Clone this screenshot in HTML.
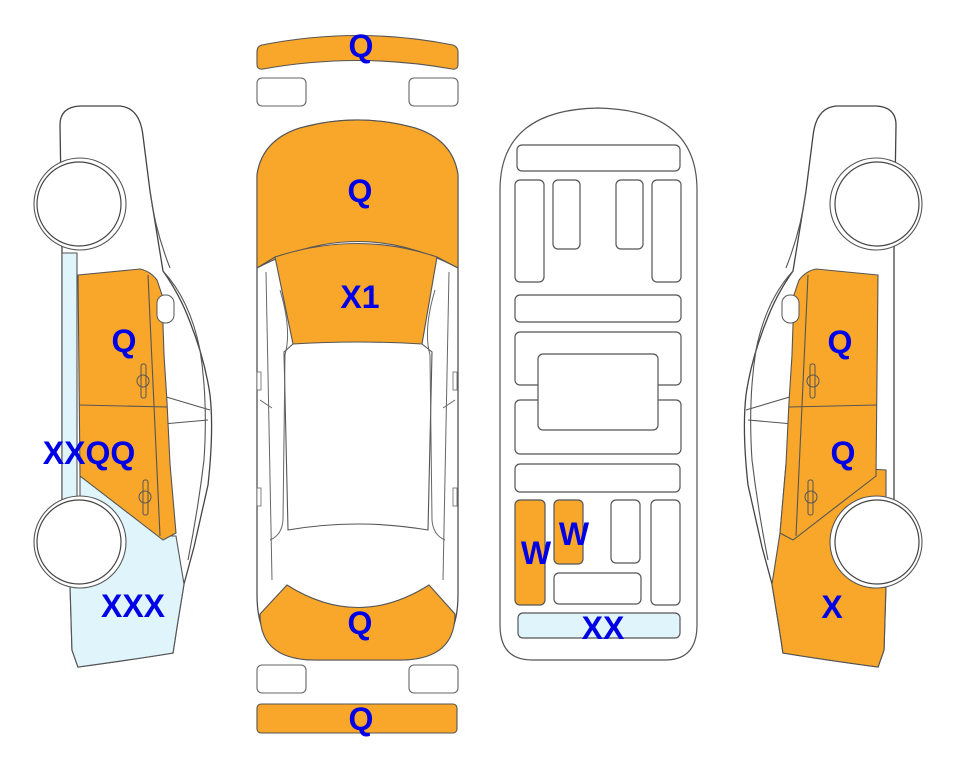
<!DOCTYPE html>
<html><head><meta charset="utf-8"><style>
html,body{margin:0;padding:0;background:#fff;}
svg{display:block}
text{font-family:"Liberation Sans",Arial,sans-serif;font-weight:bold;font-size:32px;fill:#0000e6;text-anchor:middle;}
</style></head><body>
<svg width="963" height="768" viewBox="0 0 963 768" xmlns="http://www.w3.org/2000/svg">
<defs>
<g id="side">
  <path d="M62,250 L60,125 Q60,107 80,106 L120,106 Q140,108 143,136 L150,191 L163,271 Q180,295 190,322 Q205,360 210,395 Q214,430 208,485 L194,547 L184,584 L177,627 L173,653 Q130,660 78,667 L72,650 L70,584 L62,500 Z" fill="#fff" stroke="#444" stroke-width="1.3"/>
  <path d="M150,191 Q155,230 170,268 M163,271 Q190,300 200,350 Q208,400 204,460 Q198,510 188,560" fill="none" stroke="#555" stroke-width="1.1"/>
  <path d="M163,396 L210,410 M163,424 L208,420" fill="none" stroke="#555" stroke-width="1.1"/>
</g>
</defs>

<use href="#side"/>
<path d="M62,253 L77,253 L77,500 L80,500 L80,476 L163,536 L176,536 L184,584 L177,627 L173,653 Q130,660 78,667 L72,650 L70,584 L62,500 Z" fill="#dff5fb" stroke="#555" stroke-width="1.1"/>
<path d="M78,275 L140,269 Q150,271 157,280 L162,295 L164,355 L167,402 L170,464 L176,533 L163,540 L80,476 Z" fill="#f9a72b" stroke="#555" stroke-width="1.1"/>
<path d="M79,405 L167,407 M148,275 L160,536" stroke="#555" stroke-width="1.1" fill="none"/>
<rect x="157" y="295" width="17" height="28" rx="8" fill="#fff" stroke="#555"/>
<rect x="141" y="364" width="5" height="34" rx="2" fill="none" stroke="#555"/>
<path d="M137,381 a6,6 0 0 1 12,0 a6,6 0 0 1 -12,0" fill="none" stroke="#555"/>
<rect x="143" y="480" width="5" height="35" rx="2" fill="none" stroke="#555"/>
<path d="M139,497 a6,6 0 0 1 12,0 a6,6 0 0 1 -12,0" fill="none" stroke="#555"/>
<circle cx="80" cy="204" r="46" fill="#fff" stroke="#555" stroke-width="1.1"/>
<circle cx="79" cy="204" r="42" fill="#fff" stroke="#444" stroke-width="1.2"/>
<circle cx="80" cy="542" r="46" fill="#fff" stroke="#555" stroke-width="1.1"/>
<circle cx="79" cy="542" r="42" fill="#fff" stroke="#444" stroke-width="1.2"/>

<g transform="translate(956,0) scale(-1,1)">
<use href="#side"/>
<path d="M70,470 L170,464 L176,533 L184,584 L177,627 L173,653 Q130,660 78,667 L72,650 L70,584 Z" fill="#f9a72b" stroke="#555" stroke-width="1.1"/>
<path d="M78,275 L140,269 Q150,271 157,280 L162,295 L164,355 L167,402 L170,464 L176,533 L163,540 L80,476 Z" fill="#f9a72b" stroke="#555" stroke-width="1.1"/>
<path d="M79,405 L167,407 M148,275 L160,536" stroke="#555" stroke-width="1.1" fill="none"/>
<rect x="157" y="295" width="17" height="28" rx="8" fill="#fff" stroke="#555"/>
<rect x="141" y="364" width="5" height="34" rx="2" fill="none" stroke="#555"/>
<path d="M137,381 a6,6 0 0 1 12,0 a6,6 0 0 1 -12,0" fill="none" stroke="#555"/>
<rect x="143" y="480" width="5" height="35" rx="2" fill="none" stroke="#555"/>
<path d="M139,497 a6,6 0 0 1 12,0 a6,6 0 0 1 -12,0" fill="none" stroke="#555"/>
<circle cx="80" cy="204" r="46" fill="#fff" stroke="#555" stroke-width="1.1"/>
<circle cx="79" cy="204" r="42" fill="#fff" stroke="#444" stroke-width="1.2"/>
<circle cx="80" cy="542" r="46" fill="#fff" stroke="#555" stroke-width="1.1"/>
<circle cx="79" cy="542" r="42" fill="#fff" stroke="#444" stroke-width="1.2"/>
</g>

<path d="M262,45 Q358,26 453,45 Q458,47 458,52 L458,64 Q458,70 452,69 Q358,52 263,69 Q257,70 257,64 L257,52 Q257,46 262,45 Z" fill="#f9a72b" stroke="#555" stroke-width="1.1"/>
<rect x="257" y="78" width="49" height="28" rx="5" fill="#fff" stroke="#666" stroke-width="1.1"/>
<rect x="409" y="78" width="49" height="28" rx="5" fill="#fff" stroke="#666" stroke-width="1.1"/>
<path d="M257,270 L257,175 Q262,140 300,128 Q358,112 415,128 Q453,140 458,175 L458,595 Q458,660 400,660 L315,660 Q257,660 257,595 Z" fill="#fff" stroke="#444" stroke-width="1.2"/>
<path d="M257,268 L257,175 Q262,140 300,128 Q358,112 415,128 Q453,140 458,175 L458,268 Q358,215 257,268 Z" fill="#f9a72b" stroke="#555" stroke-width="1.1"/>
<path d="M275,257 Q358,230 437,257 L422,344 Q358,340 293,344 Z" fill="#f9a72b" stroke="#555" stroke-width="1.1"/>
<path d="M257,268 L275,257 M458,268 L437,257 M293,344 L284,352 L288,530 Q358,518 428,530 L432,352 L422,344" fill="none" stroke="#555" stroke-width="1.1"/>
<path d="M266,272 L272,580 M449,272 L443,580 M280,290 Q292,330 285,355 L283,520 Q282,535 270,540 M435,290 Q423,330 430,355 L432,520 Q433,535 445,540 M260,400 L272,408 M455,400 L443,408" fill="none" stroke="#666" stroke-width="1"/>
<rect x="257" y="372" width="4" height="18" fill="#fff" stroke="#666" stroke-width="0.8"/>
<rect x="453" y="372" width="4" height="18" fill="#fff" stroke="#666" stroke-width="0.8"/>
<rect x="257" y="488" width="4" height="18" fill="#fff" stroke="#666" stroke-width="0.8"/>
<rect x="453" y="488" width="4" height="18" fill="#fff" stroke="#666" stroke-width="0.8"/>
<path d="M260,614 L287,585 Q358,630 429,585 L455,614 Q455,660 400,660 L315,660 Q260,660 260,614 Z" fill="#f9a72b" stroke="#555" stroke-width="1.1"/>
<rect x="257" y="665" width="49" height="28" rx="5" fill="#fff" stroke="#666" stroke-width="1.1"/>
<rect x="409" y="665" width="49" height="28" rx="5" fill="#fff" stroke="#666" stroke-width="1.1"/>
<rect x="257" y="704" width="200" height="29" rx="4" fill="#f9a72b" stroke="#555" stroke-width="1.1"/>

<g fill="#fff" stroke="#555" stroke-width="1.2">
<path d="M500,190 Q500,110 598,108 Q697,110 697,190 L697,625 Q697,660 665,660 L532,660 Q500,660 500,625 Z"/>
<rect x="517" y="145" width="163" height="26" rx="5"/>
<rect x="515" y="180" width="29" height="102" rx="5"/>
<rect x="553" y="180" width="27" height="69" rx="5"/>
<rect x="616" y="180" width="27" height="69" rx="5"/>
<rect x="652" y="180" width="29" height="102" rx="5"/>
<rect x="515" y="295" width="166" height="27" rx="5"/>
<rect x="515" y="332" width="166" height="53" rx="5"/>
<rect x="515" y="400" width="166" height="54" rx="5"/>
<rect x="538" y="354" width="120" height="76" rx="5"/>
<rect x="515" y="464" width="165" height="28" rx="5"/>
<rect x="515" y="500" width="30" height="105" rx="5" fill="#f9a72b"/>
<rect x="554" y="500" width="29" height="64" rx="5" fill="#f9a72b"/>
<rect x="611" y="500" width="29" height="63" rx="5"/>
<rect x="651" y="500" width="29" height="105" rx="5"/>
<rect x="554" y="573" width="87" height="31" rx="5"/>
<rect x="518" y="613" width="162" height="25" rx="5" fill="#dff5fb"/>
</g>

<text x="361" y="57">Q</text>
<text x="360" y="202">Q</text>
<text x="360" y="308">X1</text>
<text x="360" y="634">Q</text>
<text x="361" y="730">Q</text>
<text x="124" y="352">Q</text>
<text x="89" y="464">XXQQ</text>
<text x="133" y="617">XXX</text>
<text x="536" y="564">W</text>
<text x="574" y="545">W</text>
<text x="603" y="639">XX</text>
<text x="840" y="353">Q</text>
<text x="843" y="464">Q</text>
<text x="832" y="618">X</text>
</svg>
</body></html>
